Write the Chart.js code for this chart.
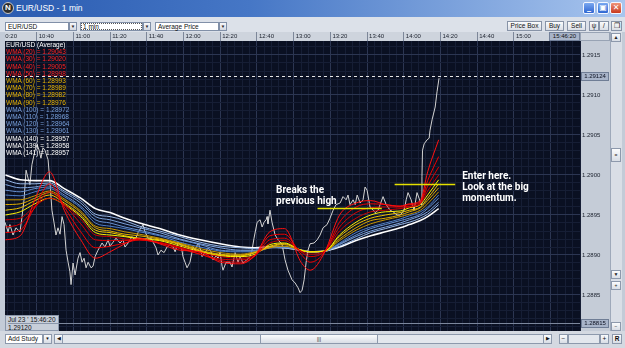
<!DOCTYPE html>
<html>
<head>
<meta charset="utf-8">
<title>EUR/USD - 1 min</title>
<script src="https://cdn.jsdelivr.net/npm/chart.js@4.4.1/dist/chart.umd.min.js"></script>
<style>
  body { margin: 0; width: 625px; height: 348px; overflow: hidden; position: relative;
         background: #c3cbd7; font-family: "Liberation Sans", Arial, sans-serif; }
  .a { position: absolute; box-sizing: border-box; white-space: nowrap; }
  #title { left: 0; top: 0; width: 625px; height: 17px;
           background: linear-gradient(90deg, #2a5bb0 0%, #4677c6 40%, #a8c5ee 100%); }
  #logo { left: 2px; top: 2px; width: 12px; height: 12px; border-radius: 6px; background: #2e2e2e;
          border: 1px solid #c9c9c9; color: #fff; font: bold 8px/10px "Liberation Sans"; text-align: center; }
  #ttl { left: 16px; top: 3px; color: #fff; font-size: 8.5px; }
  .wb { top: 2px; width: 12px; height: 12px; border: 1px solid #f2f6ff; border-radius: 2px;
        background: linear-gradient(#7aa8f0, #2f66d2); color: #fff; font: bold 8px/10px "DejaVu Sans"; text-align: center; }
  #tools { left: 0; top: 17px; width: 625px; height: 15px; background: #dce1e9; }
  .cb { top: 22px; height: 9px; background: #fff; border: 1px solid #8190a8; color: #111;
        font-size: 6.5px; line-height: 7px; padding-left: 2px; }
  .ar { top: 22px; width: 8px; height: 9px; background: linear-gradient(#f7f8fa, #d3d8e1);
        border: 1px solid #8190a8; color: #222; font-size: 4.5px; line-height: 7px; text-align: center; }
  .bt { top: 21px; height: 10px; background: linear-gradient(#fafbfc, #dadee6); border: 1px solid #8793a7;
        color: #111; font-size: 6.5px; line-height: 8px; text-align: center; }
  #wrap { left: 0; top: 32px; width: 610px; height: 299px; }
  #frameL { left: 0; top: 32px; width: 5px; height: 299px; background: #c3cbd7; }
  #nowBox { left: 549px; top: 32px; width: 31px; height: 9px; background: #a8b4c9; border: 1px solid #73819a;
            color: #111; font-size: 6px; line-height: 7px; text-align: center; }
  #pxHead { left: 580px; top: 32px; width: 30px; height: 9px; background: #d0d6df; border: 1px solid #98a3b4; }
  #vs { left: 610px; top: 32px; width: 12px; height: 299px; background: #d9dee6; border-left: 1px solid #9ea9ba; }
  .sb { left: 611px; width: 10px; height: 9px; background: linear-gradient(#fbfcfd, #d8dde5); border: 1px solid #8d99ac;
        color: #222; font-size: 5px; line-height: 7px; text-align: center; }
  #legend { left: 6px; top: 41px; font-size: 6.5px; line-height: 7.2px; }
  #info { left: 5px; top: 315px; width: 54px; height: 16px; background: #c7ced9; border: 1px solid #8a96aa;
          color: #111; font-size: 6.5px; line-height: 7px; padding-left: 2px; }
  #info div + div { border-top: 1px solid #8a96aa; }
  #bottom { left: 0; top: 331px; width: 625px; height: 17px; background: #d4d9e1; }
  .bb { top: 334px; height: 10px; background: linear-gradient(#fbfcfd, #d8dde5); border: 1px solid #8d99ac;
        color: #111; font-size: 6.5px; line-height: 8px; text-align: center; }
</style>
</head>
<body>
<div id="title" class="a">
  <div id="logo" class="a">N</div>
  <div id="ttl" class="a">EUR/USD - 1 min</div>
</div>
<div class="a wb" style="left:583px">_</div>
<div class="a wb" style="left:597px">&#9635;</div>
<div class="a wb" style="left:610px;background:linear-gradient(#f0957a,#c8381d)">&#10005;</div>

<div id="tools" class="a"></div>
<div class="a cb" style="left:5px;width:64px">EUR/USD</div>
<div class="a ar" style="left:69px">&#9660;</div>
<div class="a cb" style="left:80px;width:63px;outline:1px dotted #555;outline-offset:-2px">1 min</div>
<div class="a ar" style="left:143px">&#9660;</div>
<div class="a cb" style="left:155px;width:64px">Average Price</div>
<div class="a ar" style="left:219px">&#9660;</div>
<div class="a bt" style="left:507px;width:35px">Price Box</div>
<div class="a bt" style="left:545px;width:19px">Buy</div>
<div class="a bt" style="left:567px;width:19px">Sell</div>
<div class="a bt" style="left:589px;width:10px">&#968;</div>
<div class="a bt" style="left:599px;width:10px">/</div>
<div class="a bt" style="left:611px;width:11px">&#10064;</div>

<div id="wrap" class="a"><canvas id="c"></canvas></div>
<div id="frameL" class="a"></div>
<div id="nowBox" class="a">15:46:20</div>
<div id="pxHead" class="a"></div>
<div id="vs" class="a"></div>
<div class="a sb" style="top:33px">&#9650;</div>
<div class="a sb" style="top:148px;height:14px;line-height:12px">=</div>
<div class="a sb" style="top:270px">&#9660;</div>
<div class="a sb" style="top:281px">+</div>
<div class="a sb" style="top:322px">&minus;</div>
<div id="legend" class="a"></div>
<div id="info" class="a"><div>Jul 23 ' 15:46:20</div><div>1.29120</div></div>

<div id="bottom" class="a"></div>
<div class="a bb" style="left:5px;width:38px;background:#fff;text-align:left;padding-left:2px">Add Study</div>
<div class="a bb" style="left:43px;width:9px;font-size:4.5px">&#9660;</div>
<div class="a bb" style="left:54px;width:496px;background:#e3e7ed"></div>
<div class="a bb" style="left:54px;width:9px;font-size:4.5px">&#9664;</div>
<div class="a bb" style="left:260px;width:118px;font-size:5px">|||</div>
<div class="a bb" style="left:543px;width:9px;font-size:4.5px">&#9654;</div>
<div class="a bb" style="left:559px;width:9px">&minus;</div>
<div class="a bb" style="left:568px;width:32px;background:#e3e7ed"></div>
<div class="a bb" style="left:600px;width:9px">+</div>
<div class="a bb" style="left:612px;width:10px;font-weight:bold">R</div>

<script>
// time axis: minutes after 10:00
const timeLabels = ['10:20', '10:40', '11:00', '11:20', '11:40', '12:00', '12:20', '12:40',
  '13:00', '13:20', '13:40', '14:00', '14:20', '14:40', '15:00', '15:20']
const priceLabels = ['1.2885', '1.2890', '1.2895', '1.2900', '1.2905', '1.2910', '1.2915']

// average price, 1 min bars (minutes after 10:00)
const priceTimes = [22.7, 24.4, 25.4, 27.1, 28.7, 30.9, 32.0, 33.1, 34.2, 35.3, 36.3, 37.4, 39.1, 40.2, 41.3,
  42.3, 43.4, 44.5, 46.2, 47.2, 48.3, 49.4, 50.5, 51.6, 52.7, 53.8, 54.9, 56.0, 57.1, 58.1, 58.7, 59.8,
  60.9, 62.5, 63.6, 64.7, 65.8, 66.9, 68.0, 69.6, 70.7, 71.8, 73.4, 75.6, 77.2, 78.9, 79.9, 81.6, 83.2,
  85.4, 87.0, 88.1, 89.8, 91.9, 93.6, 95.2, 96.8, 97.9, 99.0, 100.7, 102.3, 103.4, 105.0, 106.1, 107.7,
  109.4, 111.0, 112.6, 114.3, 115.4, 117.0, 118.6, 119.7, 120.8, 121.9, 123.5, 125.2, 126.3, 127.9, 129.0,
  130.1, 131.7, 133.4, 135.0, 136.1, 137.7, 138.8, 139.9, 141.0, 141.5, 143.2, 145.3, 146.4, 148.1, 149.7,
  150.8, 152.4, 154.1, 156.2, 157.3, 158.4, 160.1, 161.7, 162.8, 163.9, 165.0, 165.5, 166.0, 167.1, 168.2,
  169.9, 171.5, 173.7, 175.3, 176.9, 179.1, 180.8, 182.4, 183.5, 184.6, 185.7, 186.8, 187.8, 188.9, 191.1,
  192.8, 194.4, 196.0, 198.2, 199.8, 201.5, 203.1, 205.3, 206.9, 208.6, 209.6, 210.7, 212.4, 213.5, 214.6,
  216.2, 217.8, 218.9, 220.0, 221.6, 223.3, 224.4, 226.0, 227.1, 228.7, 230.4, 232.5, 234.2, 236.3, 238.0,
  240.2, 241.3, 242.3, 244.0, 245.6, 247.2, 248.3, 249.4, 249.9, 250.2, 251.1, 252.7, 253.8, 254.3, 255.4,
  257.1, 258.1, 259.2]
const priceValues = [1.28941, 1.28929, 1.28938, 1.28925, 1.28934, 1.28929, 1.28948, 1.28969, 1.29006,
  1.28996, 1.28988, 1.29013, 1.29031, 1.29038, 1.29031, 1.29021, 1.29034, 1.29031, 1.29019, 1.28991,
  1.28956, 1.28941, 1.28925, 1.28934, 1.28926, 1.28948, 1.28938, 1.28906, 1.28891, 1.28879, 1.28863,
  1.28890, 1.28875, 1.28896, 1.28903, 1.28891, 1.28896, 1.28884, 1.28891, 1.28884, 1.28886, 1.28898,
  1.28906, 1.28915, 1.28910, 1.28919, 1.28911, 1.28916, 1.28921, 1.28915, 1.28919, 1.28910, 1.28915,
  1.28923, 1.28919, 1.28928, 1.28934, 1.28938, 1.28929, 1.28921, 1.28921, 1.28916, 1.28909, 1.28900,
  1.28906, 1.28903, 1.28910, 1.28913, 1.28910, 1.28904, 1.28916, 1.28913, 1.28898, 1.28891, 1.28884,
  1.28891, 1.28910, 1.28906, 1.28915, 1.28909, 1.28898, 1.28903, 1.28909, 1.28904, 1.28894, 1.28899,
  1.28896, 1.28904, 1.28886, 1.28881, 1.28891, 1.28891, 1.28885, 1.28903, 1.28891, 1.28898, 1.28890,
  1.28893, 1.28898, 1.28906, 1.28921, 1.28941, 1.28944, 1.28935, 1.28941, 1.28944, 1.28948, 1.28939,
  1.28956, 1.28941, 1.28925, 1.28919, 1.28913, 1.28894, 1.28881, 1.28869, 1.28865, 1.28859, 1.28853,
  1.28856, 1.28869, 1.28891, 1.28906, 1.28914, 1.28915, 1.28919, 1.28925, 1.28934, 1.28938, 1.28946,
  1.28956, 1.28963, 1.28965, 1.28973, 1.28969, 1.28975, 1.28963, 1.28969, 1.28963, 1.28975, 1.28965,
  1.28969, 1.28985, 1.28981, 1.28960, 1.28956, 1.28953, 1.28956, 1.28963, 1.28973, 1.28963, 1.28956,
  1.28954, 1.28950, 1.28950, 1.28956, 1.28969, 1.28978, 1.28969, 1.28956, 1.28978, 1.28971, 1.28963,
  1.28998, 1.29031, 1.29039, 1.29044, 1.29046, 1.29056, 1.29069, 1.29085, 1.29104, 1.29121]

// weighted moving averages, read at these minutes after 10:00
const wmaTimes = [23, 31, 39, 47, 55, 64, 72, 80, 88, 96, 107, 118, 129, 140, 151, 159, 167, 175, 184,
  189, 197, 205, 214, 222, 230, 238, 243, 249, 253, 259]
const wma20 = [1.28919, 1.28924, 1.28969, 1.29004, 1.28956, 1.28919, 1.28896, 1.28904, 1.28914, 1.28921,
  1.28914, 1.28906, 1.28904, 1.28891, 1.28889, 1.28900, 1.28929, 1.28933, 1.28891, 1.28881, 1.28904,
  1.28950, 1.28965, 1.28968, 1.28963, 1.28961, 1.28964, 1.28968, 1.29004, 1.29044]
const wma30 = [1.28928, 1.28931, 1.28960, 1.28989, 1.28960, 1.28929, 1.28909, 1.28911, 1.28915, 1.28919,
  1.28915, 1.28908, 1.28901, 1.28893, 1.28891, 1.28899, 1.28924, 1.28926, 1.28901, 1.28891, 1.28904,
  1.28941, 1.28960, 1.28964, 1.28963, 1.28961, 1.28963, 1.28966, 1.28993, 1.29023]
const wma40 = [1.28935, 1.28939, 1.28959, 1.28979, 1.28963, 1.28939, 1.28919, 1.28918, 1.28918, 1.28919,
  1.28915, 1.28909, 1.28901, 1.28895, 1.28894, 1.28899, 1.28919, 1.28921, 1.28904, 1.28898, 1.28905,
  1.28935, 1.28953, 1.28959, 1.28960, 1.28960, 1.28961, 1.28965, 1.28986, 1.29010]
const wma50 = [1.28944, 1.28946, 1.28961, 1.28971, 1.28963, 1.28945, 1.28925, 1.28923, 1.28920, 1.28919,
  1.28916, 1.28910, 1.28903, 1.28898, 1.28896, 1.28900, 1.28915, 1.28918, 1.28905, 1.28901, 1.28905,
  1.28930, 1.28946, 1.28954, 1.28956, 1.28958, 1.28960, 1.28964, 1.28980, 1.29000]
const wma60 = [1.28950, 1.28954, 1.28964, 1.28971, 1.28963, 1.28948, 1.28928, 1.28925, 1.28923, 1.28920,
  1.28918, 1.28911, 1.28904, 1.28899, 1.28898, 1.28901, 1.28913, 1.28915, 1.28906, 1.28904, 1.28905,
  1.28925, 1.28941, 1.28950, 1.28954, 1.28955, 1.28959, 1.28963, 1.28975, 1.28994]
const wma70 = [1.28956, 1.28959, 1.28968, 1.28975, 1.28965, 1.28950, 1.28931, 1.28928, 1.28924, 1.28921,
  1.28919, 1.28913, 1.28905, 1.28900, 1.28899, 1.28903, 1.28911, 1.28914, 1.28906, 1.28904, 1.28905,
  1.28923, 1.28938, 1.28946, 1.28950, 1.28953, 1.28956, 1.28960, 1.28971, 1.28989]
const wma80 = [1.28963, 1.28964, 1.28971, 1.28978, 1.28968, 1.28953, 1.28934, 1.28930, 1.28926, 1.28924,
  1.28920, 1.28914, 1.28906, 1.28901, 1.28900, 1.28903, 1.28910, 1.28913, 1.28906, 1.28904, 1.28905,
  1.28920, 1.28934, 1.28943, 1.28946, 1.28950, 1.28954, 1.28959, 1.28968, 1.28984]
const wma90 = [1.28969, 1.28969, 1.28974, 1.28980, 1.28970, 1.28955, 1.28936, 1.28933, 1.28929, 1.28926,
  1.28921, 1.28915, 1.28908, 1.28903, 1.28901, 1.28904, 1.28909, 1.28911, 1.28906, 1.28904, 1.28905,
  1.28918, 1.28931, 1.28939, 1.28944, 1.28948, 1.28951, 1.28956, 1.28964, 1.28979]
const wma100 = [1.28975, 1.28974, 1.28979, 1.28983, 1.28973, 1.28959, 1.28940, 1.28936, 1.28933, 1.28929,
  1.28924, 1.28916, 1.28910, 1.28905, 1.28904, 1.28904, 1.28909, 1.28910, 1.28906, 1.28904, 1.28905,
  1.28915, 1.28928, 1.28935, 1.28940, 1.28945, 1.28949, 1.28954, 1.28960, 1.28975]
const wma110 = [1.28981, 1.28979, 1.28983, 1.28985, 1.28975, 1.28961, 1.28944, 1.28940, 1.28935, 1.28931,
  1.28925, 1.28919, 1.28913, 1.28906, 1.28905, 1.28905, 1.28909, 1.28910, 1.28906, 1.28904, 1.28905,
  1.28914, 1.28925, 1.28933, 1.28938, 1.28943, 1.28946, 1.28951, 1.28958, 1.28971]
const wma120 = [1.28988, 1.28984, 1.28985, 1.28988, 1.28978, 1.28965, 1.28948, 1.28944, 1.28939, 1.28934,
  1.28928, 1.28920, 1.28914, 1.28909, 1.28906, 1.28906, 1.28909, 1.28909, 1.28906, 1.28904, 1.28905,
  1.28913, 1.28923, 1.28930, 1.28935, 1.28940, 1.28944, 1.28949, 1.28954, 1.28966]
const wma130 = [1.28994, 1.28989, 1.28989, 1.28990, 1.28980, 1.28968, 1.28951, 1.28948, 1.28943, 1.28936,
  1.28930, 1.28923, 1.28916, 1.28911, 1.28909, 1.28908, 1.28910, 1.28909, 1.28906, 1.28904, 1.28905,
  1.28911, 1.28920, 1.28928, 1.28933, 1.28938, 1.28941, 1.28946, 1.28951, 1.28963]
// WMA 139 / 140 / 141 lie on top of each other
const wma140 = [1.29000, 1.28994, 1.28993, 1.28993, 1.28983, 1.28971, 1.28958, 1.28953, 1.28946, 1.28940,
  1.28933, 1.28925, 1.28919, 1.28914, 1.28910, 1.28909, 1.28910, 1.28909, 1.28906, 1.28904, 1.28905,
  1.28910, 1.28918, 1.28924, 1.28929, 1.28934, 1.28938, 1.28943, 1.28948, 1.28958]

const legendTitle = 'EUR/USD (Average)'
const legendPeriods = [20, 30, 40, 50, 60, 70, 80, 90, 100, 110, 120, 130, 140, 139, 141]
const legendValues = [1.29043, 1.29020, 1.29005, 1.28998, 1.28993, 1.28989, 1.28982, 1.28976, 1.28972,
  1.28968, 1.28964, 1.28961, 1.28957, 1.28958, 1.28957]

const lastPrice = 1.29124
const lowPrice = 1.28815

// yellow marks and notes
const markFrom = [193, 235]
const markTo = [228, 268]
const markPrice = [1.28958, 1.28988]
const noteTimes = [170.4, 271.8]
const notePrices = [1.28981, 1.28998]
const noteLines = [['Breaks the', 'previous high'], ['Enter here.', 'Look at the big', 'momentum.']]

const toMin = (s) => {
  const [h, m] = s.split(':').map(Number)
  return h * 60 + m - 600
}
const xLabel = new Map(timeLabels.map((t) => [toMin(t), t]))
const yLabel = new Map(priceLabels.map((p) => [Math.round(parseFloat(p) * 10000), p]))
const isMajorX = (v) => xLabel.has(v)
const isMajorY = (v) => yLabel.has(Math.round(v * 10000))

const groupColor = (p) => (p <= 50 ? '#ff2222' : p <= 90 ? '#e8b400' : p <= 130 ? '#78a0dc' : '#ffffff')
document.getElementById('legend').innerHTML =
  `<div style="color:#fff">${legendTitle}</div>` +
  legendPeriods
    .map((p, i) => `<div style="color:${groupColor(p)}">WMA (${p}) = ${legendValues[i].toFixed(5)}</div>`)
    .join('')

const pts = (xs, ys) => xs.map((x, i) => ({ x, y: ys[i] }))

const wmaSeries = [
  ['WMA (20)', wma20, '#ff1010'],
  ['WMA (30)', wma30, '#f00000'],
  ['WMA (40)', wma40, '#dc0000'],
  ['WMA (50)', wma50, '#c80000'],
  ['WMA (60)', wma60, '#fff200'],
  ['WMA (70)', wma70, '#f0c400'],
  ['WMA (80)', wma80, '#dcaa00'],
  ['WMA (90)', wma90, '#c69400'],
  ['WMA (100)', wma100, '#4f7ec4'],
  ['WMA (110)', wma110, '#6690d0'],
  ['WMA (120)', wma120, '#7ea4dc'],
  ['WMA (130)', wma130, '#98b8e6'],
  ['WMA (140)', wma140, '#ffffff'],
]

const datasets = wmaSeries.map(([label, vals, color]) => ({
  label,
  data: pts(wmaTimes, vals),
  borderColor: color,
  borderWidth: label === 'WMA (140)' ? 1.6 : 1,
  cubicInterpolationMode: 'monotone',
}))
datasets.push({
  label: 'EUR/USD (Average)',
  data: pts(priceTimes, priceValues),
  borderColor: '#d2d2d2',
  borderWidth: 1,
  tension: 0,
})

const frame = {
  id: 'frame',
  beforeDraw(chart) {
    const { ctx, chartArea: a, width, height } = chart
    ctx.save()
    ctx.fillStyle = '#ced4dd'
    ctx.fillRect(0, 0, a.right, a.top)
    ctx.fillStyle = '#c5ccd7'
    ctx.fillRect(a.right, 0, width - a.right, height)
    ctx.fillStyle = '#0a1022'
    ctx.fillRect(a.left, a.top, a.right - a.left, a.bottom - a.top)
    ctx.restore()
  },
}

function axisBox(ctx, a, y, text) {
  const top = Math.round(y) - 4
  ctx.fillStyle = '#a8b4c9'
  ctx.fillRect(a.right + 1, top, 28, 9)
  ctx.strokeStyle = '#6f7d95'
  ctx.lineWidth = 1
  ctx.strokeRect(a.right + 1.5, top + 0.5, 27, 8)
  ctx.fillStyle = '#0c1020'
  ctx.font = '6px "Liberation Sans"'
  ctx.textAlign = 'center'
  ctx.textBaseline = 'middle'
  ctx.fillText(text, a.right + 15, top + 4.5)
}

const notes = {
  id: 'notes',
  afterDatasetsDraw(chart) {
    const { ctx, chartArea: a, scales: { x, y } } = chart
    ctx.save()
    ctx.beginPath()
    ctx.rect(a.left, a.top, a.right - a.left, a.bottom - a.top)
    ctx.clip()

    const yl = Math.round(y.getPixelForValue(lastPrice)) + 0.5
    ctx.strokeStyle = '#e6e6e6'
    ctx.lineWidth = 1
    ctx.setLineDash([3, 3])
    ctx.beginPath()
    ctx.moveTo(a.left, yl)
    ctx.lineTo(a.right, yl)
    ctx.stroke()
    ctx.setLineDash([])

    const yb = Math.round(y.getPixelForValue(lowPrice)) + 0.5
    ctx.strokeStyle = '#7c879c'
    ctx.beginPath()
    ctx.moveTo(a.left, yb)
    ctx.lineTo(a.right, yb)
    ctx.stroke()

    ctx.strokeStyle = '#e4e000'
    ctx.lineWidth = 1.5
    markPrice.forEach((p, i) => {
      const py = y.getPixelForValue(p)
      ctx.beginPath()
      ctx.moveTo(x.getPixelForValue(markFrom[i]), py)
      ctx.lineTo(x.getPixelForValue(markTo[i]), py)
      ctx.stroke()
    })

    ctx.fillStyle = '#ffffff'
    ctx.font = 'bold 10px Roboto'
    ctx.textAlign = 'left'
    ctx.textBaseline = 'middle'
    noteLines.forEach((lines, i) => {
      const nx = x.getPixelForValue(noteTimes[i])
      const ny = y.getPixelForValue(notePrices[i])
      lines.forEach((t, j) => ctx.fillText(t, nx, ny + j * 11))
    })
    ctx.restore()

    ctx.save()
    axisBox(ctx, a, y.getPixelForValue(lastPrice), lastPrice.toFixed(5))
    axisBox(ctx, a, y.getPixelForValue(lowPrice), lowPrice.toFixed(5))
    ctx.restore()
  },
}

const tickFont = { size: 6, family: 'Liberation Sans' }

new Chart(document.getElementById('c'), {
  type: 'line',
  data: { datasets },
  options: {
    responsive: true,
    maintainAspectRatio: false,
    animation: false,
    layout: { padding: 0 },
    elements: { point: { radius: 0 } },
    plugins: { legend: { display: false }, tooltip: { enabled: false } },
    scales: {
      x: {
        type: 'linear',
        position: 'top',
        min: 20,
        max: 336,
        afterBuildTicks: (s) => {
          const t = []
          for (let v = 20; v <= 336; v += 4) t.push({ value: v })
          s.ticks = t
        },
        afterFit: (s) => {
          s.height = 9
          s.paddingLeft = 0
          s.paddingRight = 0
        },
        ticks: {
          autoSkip: false,
          maxRotation: 0,
          align: 'start',
          padding: -8,
          labelOffset: 2,
          color: '#1a202c',
          font: tickFont,
          callback: (v) => xLabel.get(v) || '',
        },
        grid: {
          drawTicks: true,
          tickLength: 9,
          color: (c) => (isMajorX(c.tick.value) ? '#2c3652' : '#161e35'),
          tickColor: (c) => (isMajorX(c.tick.value) ? '#7d8799' : 'rgba(0,0,0,0)'),
        },
        border: { display: false },
      },
      y: {
        position: 'right',
        min: 1.28805,
        max: 1.291675,
        afterBuildTicks: (s) => {
          const t = []
          for (let i = 12881; i <= 12916; i++) t.push({ value: i / 10000 })
          s.ticks = t
        },
        afterFit: (s) => {
          s.width = 30
          s.paddingTop = 0
          s.paddingBottom = 0
        },
        ticks: {
          autoSkip: false,
          crossAlign: 'center',
          padding: 2,
          color: '#1a202c',
          font: tickFont,
          callback: (v) => yLabel.get(Math.round(v * 10000)) || '',
        },
        grid: {
          drawTicks: false,
          color: (c) => (isMajorY(c.tick.value) ? '#2c3652' : '#161e35'),
        },
        border: { display: false },
      },
    },
  },
  plugins: [frame, notes],
})
</script>
</body>
</html>
